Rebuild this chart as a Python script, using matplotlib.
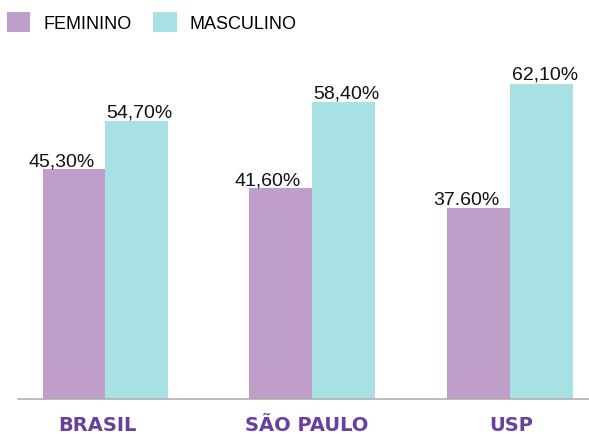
import matplotlib.pyplot as plt
import numpy as np

categories = ['BRASIL', 'SÃO PAULO', 'USP']
feminino = [45.30, 41.60, 37.60]
masculino = [54.70, 58.40, 62.10]
fem_labels = ['45,30%', '41,60%', '37.60%']
masc_labels = ['54,70%', '58,40%', '62,10%']

c_fem = '#bf9fc9'
c_masc = '#a8e1e3'
c_cat = '#6a3fa0'

plt.rcParams['font.family'] = ['Liberation Sans', 'DejaVu Sans']

fig = plt.figure(figsize=(5.89, 4.35), dpi=100)
ax = fig.add_axes([18 / 589, 35.5 / 435, 1 - 18 / 589, 360 / 435])

# group centres are not quite evenly spaced in the original
x = np.array([0, 1.02, 2])
w = 0.311
b1 = ax.bar(x - w / 2, feminino, w, color=c_fem, label='FEMININO')
b2 = ax.bar(x + w / 2, masculino, w, color=c_masc, label='MASCULINO')

ax.set_xlim(-0.432, 2.388)
ax.set_ylim(0, 71)

for bar, lab in zip(b1, fem_labels):
    ax.annotate(lab, (bar.get_x() + bar.get_width() / 2, bar.get_height()),
                xytext=(-9, 2.5), textcoords='offset points',
                ha='center', va='baseline', fontsize=14, color='#111111')
for bar, lab in zip(b2, masc_labels):
    ax.annotate(lab, (bar.get_x() + bar.get_width() / 2, bar.get_height()),
                xytext=(2, 3.5), textcoords='offset points',
                ha='center', va='baseline', fontsize=14, color='#111111')

# category names under the baseline (slightly off-centre like the original)
cat_dx = [-6, -4, 0.5]
for xi, cat, dx in zip(x, categories, cat_dx):
    ax.annotate(cat, (xi, 0), xytext=(dx, -23), textcoords='offset points',
                ha='center', va='baseline', fontsize=14, fontweight='bold',
                color=c_cat, family='DejaVu Sans')

ax.set_xticks([])
ax.set_yticks([])
for s in ['top', 'right', 'left']:
    ax.spines[s].set_visible(False)
ax.spines['bottom'].set_color('#a9a9a9')
ax.spines['bottom'].set_linewidth(1.1)

fig.legend(handles=[b1, b2], loc='upper left', bbox_to_anchor=(7 / 589, 1 - 13 / 435),
           ncol=2, frameon=False, fontsize=13, borderpad=0, borderaxespad=0,
           handlelength=1.28, handleheight=1.3, handletextpad=0.72,
           columnspacing=1.22)

fig.savefig('out.png', dpi=100)
